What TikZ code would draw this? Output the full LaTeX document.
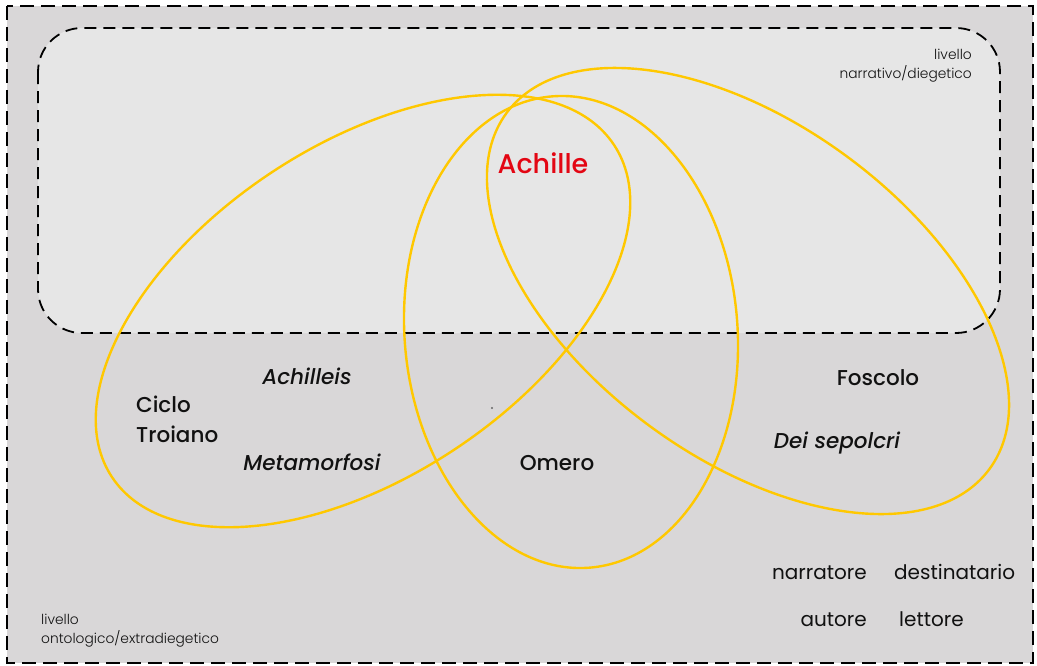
\documentclass[tikz,border=0pt]{standalone}
\usepackage{fontspec}
\setmainfont{Poppins}
\newfontfamily\popmed{Poppins Medium}
\newfontfamily\poplight{Poppins Light}
\definecolor{outerbg}{HTML}{D9D7D8}
\definecolor{innerbg}{HTML}{E6E6E6}
\definecolor{venn}{HTML}{FFC800}
\definecolor{hero}{HTML}{E30613}
\definecolor{ink}{HTML}{111111}
\tikzset{
  vennline/.style={draw=venn, line width=2.4pt},
  mainlabel/.style={inner sep=0pt, text=ink, font=\popmed\fontsize{21.5}{24}\selectfont},
  worklabel/.style={inner sep=0pt, text=ink, font=\popmed\itshape\fontsize{21.5}{24}\selectfont},
  rolelabel/.style={inner sep=0pt, text=ink, font=\fontsize{20}{24}\selectfont},
  levellabel/.style={inner sep=0pt, text=ink, align=left, font=\poplight\fontsize{13.8}{18.5}\selectfont},
}
\begin{document}
\begin{tikzpicture}[x=1pt,y=-1pt]
\useasboundingbox (0,0) rectangle (1037,665);
\fill[white] (0,0) rectangle (1037,665);
% outer level
\draw[fill=outerbg, line width=2.6pt, dash pattern=on 14pt off 7pt] (7,6) rectangle (1033,663);
% inner level
\draw[fill=innerbg, line width=1.8pt, dash pattern=on 12pt off 7pt, rounded corners=44pt] (38,28) rectangle (1000,333);
% Venn ellipses
\draw[vennline, shift={(363,311)}, rotate=33.5] (0,0) ellipse [x radius=301, y radius=166];
\draw[vennline, shift={(571,332)}, rotate=4.5] (0,0) ellipse [x radius=166.5, y radius=236.4];
\draw[vennline, shift={(748,291)}, rotate=-36.4] (0,0) ellipse [x radius=300, y radius=167];
% labels
\node[inner sep=0pt, anchor=base, text=hero, font=\popmed\fontsize{27}{30}\selectfont] (achille) at (543,173) {Achille};
\node[levellabel, anchor=base east, align=right] (narrlev) at (972,78) {livello\\narrativo/diegetico};
\node[levellabel, anchor=base west] (ontolev) at (41,643) {livello\\ontologico/extradiegetico};
\node[mainlabel, anchor=base west, align=left] (ciclo) at (136,442) {Ciclo\\[6pt]Troiano};
\node[worklabel, anchor=base] (achilleis) at (307,384) {Achilleis};
\node[worklabel, anchor=base] (metam) at (312,470) {Metamorfosi};
\node[mainlabel, anchor=base] (omero) at (557,470) {Omero};
\node[mainlabel, anchor=base] (foscolo) at (878,385) {Foscolo};
\node[worklabel, anchor=base] (sepolcri) at (837,448) {Dei sepolcri};
\node[rolelabel, anchor=base east] (narratore) at (867,579) {narratore};
\node[rolelabel, anchor=base west] (destin) at (894,579) {destinatario};
\node[rolelabel, anchor=base east] (autore) at (867,626) {autore};
\node[rolelabel, anchor=base west] (lettore) at (899,626) {lettore};
\fill[gray!80!black] (492,408) circle (1.1pt);
\end{tikzpicture}
\end{document}
